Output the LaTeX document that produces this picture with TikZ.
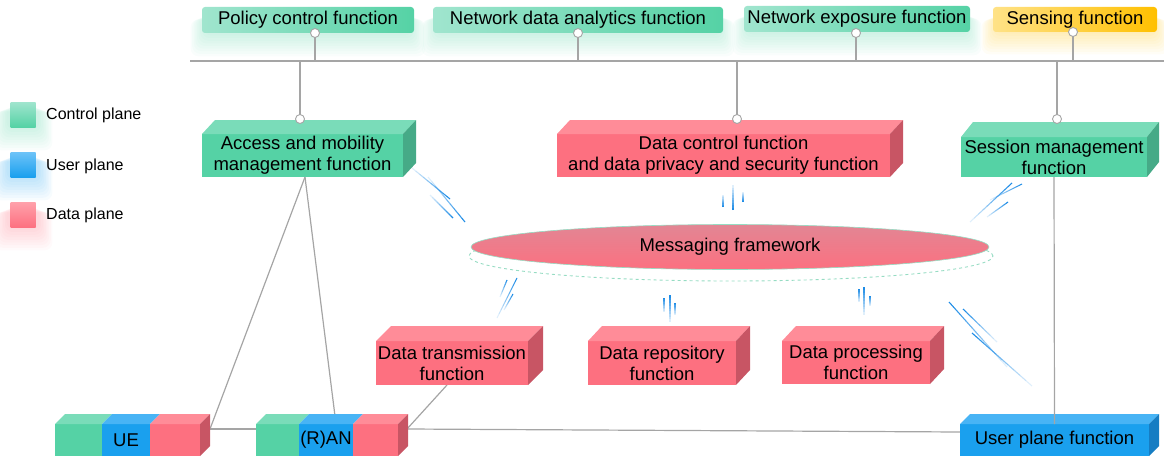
\documentclass[tikz,border=0pt]{standalone}
\usepackage{fontspec}
\setmainfont{Liberation Sans}
\usetikzlibrary{shapes.geometric,calc}
\definecolor{gF}{RGB}{85,210,165}
\definecolor{gT}{RGB}{122,220,185}
\definecolor{gS}{RGB}{70,170,135}
\definecolor{gL}{RGB}{160,229,206}
\definecolor{bF}{RGB}{26,160,238}
\definecolor{bT}{RGB}{72,180,245}
\definecolor{bS}{RGB}{22,125,195}
\definecolor{bL}{RGB}{110,195,248}
\definecolor{rF}{RGB}{253,112,128}
\definecolor{rT}{RGB}{255,140,152}
\definecolor{rS}{RGB}{200,85,100}
\definecolor{rL}{RGB}{255,160,170}
\definecolor{yL}{RGB}{255,226,135}
\definecolor{yR}{RGB}{255,192,0}
\definecolor{lineC}{RGB}{165,165,165}
\definecolor{streakC}{RGB}{30,140,230}
\definecolor{msgT}{RGB}{226,134,148}
\definecolor{msgB}{RGB}{252,112,128}
\definecolor{dashC}{RGB}{150,220,195}
\tikzset{
  txt/.style={font=\fontsize{18.5}{21}\selectfont, align=center, inner sep=0pt, outer sep=0pt, text=black},
  topbox/.style={txt, rounded corners=3pt, minimum height=26pt},
  port/.style={circle, draw=lineC, fill=white, line width=0.9pt, minimum size=9pt, inner sep=0pt, outer sep=0pt},
  conn/.style={draw=lineC, line width=1.2pt},
  legsq/.style={minimum size=25pt, inner sep=0pt, outer sep=0pt},
  legtxt/.style={font=\fontsize{16}{18}\selectfont, anchor=west, inner sep=0pt, text=black},
}
\newcommand\cuboid[9]{%
  \pgfmathsetmacro\cw{#4-#2}\pgfmathsetmacro\ch{#5-#3}%
  \node[txt, fill=#8F, minimum width=\cw pt, minimum height=\ch pt] (#1) at ({(#2+#4)/2},{(#3+#5)/2}) {#9};
  \fill[#8T] (#1.north west) -- ++(#6,-#7) -- ++(\cw,0) -- (#1.north east) -- cycle;
  \fill[#8S] (#1.north east) -- ++(#6,-#7) -- ++(0,\ch) -- (#1.south east) -- cycle;
}
\newcommand\segbox[7]{% name x1 x2 colour text dx dy ; y fixed 424..456
  \pgfmathsetmacro\cw{#3-#2}%
  \node[txt, fill=#4F, minimum width=\cw pt, minimum height=32pt] (#1) at ({(#2+#3)/2},440) {#5};
  \fill[#4T] (#1.north west) -- ++(#6,-#7) -- ++(\cw,0) -- (#1.north east) -- cycle;
}
\newcommand\glow[5]{%
  \foreach \k in {1,...,9}{%
    \fill[#5, opacity=0.035, rounded corners=8pt] ({#1-\k*1.6},{#2+2+\k*0.6}) rectangle ({#3+\k*1.6},{#4+\k*2.6});
  }}
\newcommand\streak[4]{%
  \foreach \i in {0,...,9}{%
    \pgfmathsetmacro\fa{\i/10}\pgfmathsetmacro\fb{(\i+1)/10}\pgfmathsetmacro\op{1-\i/10.5}%
    \draw[streakC, line width=1.1pt, opacity=\op] ($(#1,#2)!\fa!(#3,#4)$) -- ($(#1,#2)!\fb!(#3,#4)$);
  }}
\begin{document}
\begin{tikzpicture}[x=1pt,y=-1pt]
\useasboundingbox (0,0) rectangle (1164,460);
% glows
\glow{205}{12}{411}{33}{gF}
\glow{436}{12}{720}{33}{gF}
\glow{747}{11}{967}{32}{gF}
\glow{996}{12}{1154}{31}{yR}
\glow{8}{104}{38}{127}{gF}
\glow{8}{154}{38}{177}{bF}
\glow{8}{205}{38}{227}{rF}
% legend
\node[legsq, top color=gL, bottom color=gF] (lg) at (23,114.5) {};
\node[legsq, top color=bL, bottom color=bF] (lb) at (23,164.5) {};
\node[legsq, top color=rL, bottom color=rF] (lr) at (23,215) {};
\node[legtxt] (lgt) at (46,115) {Control plane};
\node[legtxt] (lbt) at (46,166) {User plane};
\node[legtxt] (lrt) at (46,215) {Data plane};
% top functions
\node[topbox, left color=gL, right color=gF, minimum width=212pt] (pcf) at (308,20) {Policy control function};
\node[topbox, left color=gL, right color=gF, minimum width=290pt] (nwdaf) at (578,20) {Network data analytics function};
\node[topbox, left color=gL, right color=gF, minimum width=226pt] (nef) at (857,19) {Network exposure function};
\node[topbox, left color=yL, right color=yR, minimum width=164pt, minimum height=25pt] (sf) at (1075,19.5) {Sensing function};
% bus
\coordinate (busL) at (190,61);
\coordinate (busR) at (1164,61);
\draw[draw=lineC, line width=1.6pt] (busL) -- (busR);
\node[port] (p1) at (315,33) {};
\node[port] (p2) at (578,33) {};
\node[port] (p3) at (856,33) {};
\node[port] (p4) at (1073,32) {};
\foreach \p in {p1,p2,p3,p4}{\draw[conn] (\p.south) -- (\p |- busL);}
% gray connectors (behind boxes)
\coordinate (ueR) at (210,429);
\coordinate (ranL) at (256,429);
\coordinate (ranT) at (336,424);
\coordinate (ranR) at (407,429);
\coordinate (dtB) at (447,385);
\coordinate (upfL) at (960,432);
\coordinate (amfB) at (305,177);
\draw[conn] (amfB) -- (ueR);
\draw[conn] (amfB) -- (ranT);
\draw[conn] (ueR) -- (ranL);
\draw[conn] (dtB) -- (ranR);
\draw[conn] (ranR) -- (upfL);
% 3D boxes
\cuboid{amf}{202}{134}{403}{177}{13}{14}{g}{Access and mobility\\management function}
\cuboid{dcf}{557}{134}{890}{177}{13}{14}{r}{Data control function\\and data privacy and security function}
\cuboid{smf}{961}{137}{1147}{177}{12}{15}{g}{Session management\\function}
\cuboid{dtf}{376}{341}{528}{385}{15}{15}{r}{Data transmission\\function}
\cuboid{drf}{588}{341}{736}{385}{14}{15}{r}{Data repository\\function}
\cuboid{dpf}{782}{341}{930}{384}{14}{15}{r}{Data processing\\function}
\cuboid{upf}{960}{424}{1149}{456}{10}{10}{b}{User plane function}
\draw[conn] (smf.south) -- (upf.north);
% UE
\segbox{ue1}{55}{102}{g}{}{10}{10}
\segbox{ue2}{102}{150}{b}{UE}{10}{10}
\segbox{ue3}{150}{200}{r}{}{10}{10}
\fill[rS] (ue3.north east) -- ++(10,-10) -- ++(0,32) -- (ue3.south east) -- cycle;
% RAN
\segbox{ran1}{256}{299}{g}{}{10}{10}
\segbox{ran2}{299}{353}{b}{(R)AN}{10}{10}
\segbox{ran3}{353}{398}{r}{}{10}{10}
\fill[rS] (ran3.north east) -- ++(10,-10) -- ++(0,32) -- (ran3.south east) -- cycle;
% ports on lower functions
\node[port] (q1) at (300,119) {};
\node[port] (q2) at (737,119) {};
\node[port] (q3) at (1057,119) {};
\foreach \p in {q1,q2,q3}{\draw[conn] (\p.north) -- (\p |- busL);}
% messaging framework
\draw[dashC, dashed, line width=0.9pt] (731,256) ellipse (262pt and 25pt);
\node[txt, ellipse, minimum width=518pt, minimum height=45pt, top color=msgT, bottom color=msgB, draw=dashC, line width=0.6pt] (msg) at (730,247) {Messaging framework};
% streaks
\streak{450}{199}{412}{168}
\streak{465}{222}{428}{177}
\streak{453}{218}{430}{195}
\streak{733}{210}{733}{185}
\streak{723}{207}{723}{195}
\streak{743}{202}{743}{192}
\streak{1022}{184}{990}{200}
\streak{1012}{183}{970}{222}
\streak{1008}{202}{987}{217}
\streak{517}{278}{497}{318}
\streak{507}{280}{500}{297}
\streak{513}{294}{504}{310}
\streak{670}{295}{670}{322}
\streak{664}{298}{664}{312}
\streak{675}{303}{675}{315}
\streak{864}{287}{864}{315}
\streak{859}{289}{859}{302}
\streak{870}{296}{870}{306}
\streak{949}{302}{1007}{367}
\streak{963}{309}{997}{342}
\streak{972}{333}{1032}{386}
\end{tikzpicture}
\end{document}
